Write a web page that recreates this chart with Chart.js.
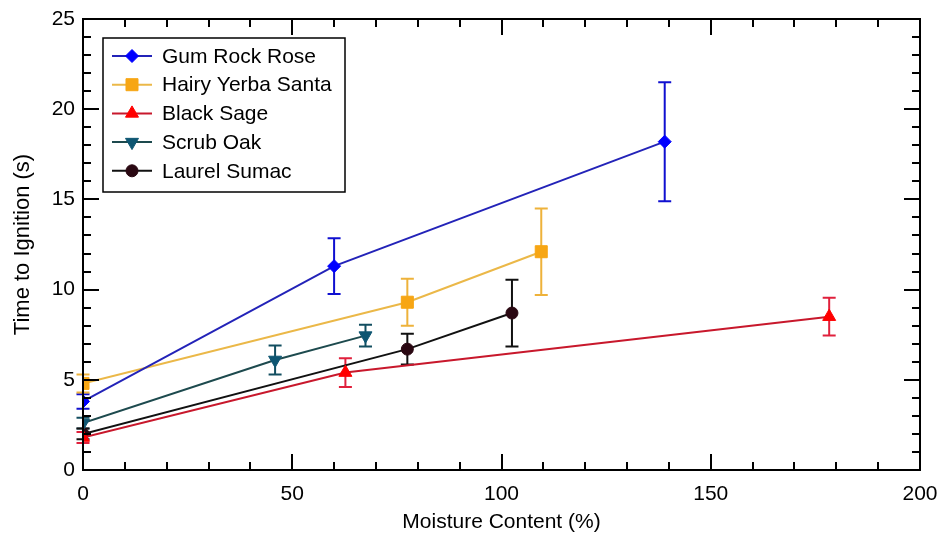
<!DOCTYPE html>
<html>
<head>
<meta charset="utf-8">
<script src="https://cdn.jsdelivr.net/npm/chart.js@4.4.1/dist/chart.umd.min.js"></script>
<style>
  html, body { margin: 0; padding: 0; background: #fff; }
</style>
</head>
<body>
<canvas id="ignitionChart" width="939" height="537"></canvas>
<script>
// moisture content (%), time to ignition (s) and error bar half-widths (s)
const gumRockRoseX = [0, 60, 139];
const gumRockRoseY = [3.8, 11.3, 18.2];
const gumRockRoseErr = [0.4, 1.55, 3.3];

const hairyYerbaSantaX = [0, 77.5, 109.5];
const hairyYerbaSantaY = [4.8, 9.3, 12.1];
const hairyYerbaSantaErr = [0.5, 1.3, 2.4];

const blackSageX = [0, 62.7, 178.3];
const blackSageY = [1.8, 5.4, 8.5];
const blackSageErr = [0.3, 0.8, 1.05];

const scrubOakX = [0, 45.9, 67.5];
const scrubOakY = [2.6, 6.1, 7.45];
const scrubOakErr = [0.3, 0.8, 0.6];

const laurelSumacX = [0, 77.5, 102.5];
const laurelSumacY = [2.0, 6.7, 8.7];
const laurelSumacErr = [0.3, 0.85, 1.85];

const xTickValues = [0, 50, 100, 150, 200];
const yTickValues = [0, 5, 10, 15, 20, 25];

const FONT = "'Liberation Sans', Arial, sans-serif";

function points(xs, ys, errs) {
    return xs.map((x, i) => ({x: x, y: ys[i], err: errs[i]}));
}

function series(label, xs, ys, errs, style) {
    return {
        label: label,
        data: points(xs, ys, errs),
        borderColor: style.line,
        borderWidth: 2,
        backgroundColor: style.marker,
        pointBackgroundColor: style.marker,
        pointBorderColor: style.marker,
        pointBorderWidth: 1,
        pointStyle: style.shape,
        pointRadius: style.radius,
        pointRotation: style.rotation || 0,
        errColor: style.err,
        tension: 0,
        fill: false
    };
}

const datasets = [
    series("Gum Rock Rose", gumRockRoseX, gumRockRoseY, gumRockRoseErr,
        {line: "#2323b8", marker: "#0000ff", err: "#1010d0", shape: "rectRot", radius: 6.5}),
    series("Hairy Yerba Santa", hairyYerbaSantaX, hairyYerbaSantaY, hairyYerbaSantaErr,
        {line: "#ebb848", marker: "#f7a614", err: "#eeb23a", shape: "rect", radius: 8.5}),
    series("Black Sage", blackSageX, blackSageY, blackSageErr,
        {line: "#c8182c", marker: "#ff0000", err: "#e0203c", shape: "triangle", radius: 7.5}),
    series("Scrub Oak", scrubOakX, scrubOakY, scrubOakErr,
        {line: "#1d4a4e", marker: "#0e5672", err: "#124e60", shape: "triangle", radius: 7.5, rotation: 180}),
    series("Laurel Sumac", laurelSumacX, laurelSumacY, laurelSumacErr,
        {line: "#111111", marker: "#2a0812", err: "#111111", shape: "circle", radius: 6})
];

// vertical error bars with caps, under the markers
const errorBars = {
    id: "errorBars",
    beforeDatasetsDraw(chart) {
        const ctx = chart.ctx;
        const xs = chart.scales.x, ys = chart.scales.y;
        ctx.save();
        chart.data.datasets.forEach(ds => {
            ctx.strokeStyle = ds.errColor;
            ctx.lineWidth = 2;
            ds.data.forEach(p => {
                const px = xs.getPixelForValue(p.x);
                const top = ys.getPixelForValue(p.y + p.err);
                const bot = ys.getPixelForValue(p.y - p.err);
                ctx.beginPath();
                ctx.moveTo(px, top); ctx.lineTo(px, bot);
                ctx.moveTo(px - 6.5, top); ctx.lineTo(px + 6.5, top);
                ctx.moveTo(px - 6.5, bot); ctx.lineTo(px + 6.5, bot);
                ctx.stroke();
            });
        });
        ctx.restore();
    }
};

// box frame with inward ticks on all four sides
const frameTicks = {
    id: "frameTicks",
    afterDatasetsDraw(chart) {
        const ctx = chart.ctx;
        const a = chart.chartArea;
        const xs = chart.scales.x, ys = chart.scales.y;
        ctx.save();
        ctx.strokeStyle = "#000";
        ctx.lineWidth = 2;
        ctx.beginPath();
        for (let v = 0; v <= 200; v += 10) {
            const len = v % 50 === 0 ? 16 : 8;
            const px = Math.round(xs.getPixelForValue(v));
            ctx.moveTo(px, a.bottom); ctx.lineTo(px, a.bottom - len);
            ctx.moveTo(px, a.top); ctx.lineTo(px, a.top + len);
        }
        for (let v = 0; v <= 25; v += 1) {
            const len = v % 5 === 0 ? 16 : 8;
            const py = Math.round(ys.getPixelForValue(v));
            ctx.moveTo(a.left, py); ctx.lineTo(a.left + len, py);
            ctx.moveTo(a.right, py); ctx.lineTo(a.right - len, py);
        }
        ctx.stroke();
        ctx.strokeRect(a.left, a.top, a.right - a.left, a.bottom - a.top);
        ctx.restore();
    }
};

// boxed legend: line sample with the marker, then the name
const boxLegend = {
    id: "boxLegend",
    afterDraw(chart) {
        const ctx = chart.ctx;
        const left = 103, top = 38, w = 242, h = 154, rowH = 28.7;
        ctx.save();
        ctx.fillStyle = "#fff";
        ctx.fillRect(left, top, w, h);
        ctx.strokeStyle = "#000";
        ctx.lineWidth = 1.5;
        ctx.strokeRect(left, top, w, h);
        ctx.font = "21px " + FONT;
        ctx.textBaseline = "middle";
        chart.data.datasets.forEach((ds, i) => {
            const cy = top + 18 + i * rowH;
            ctx.strokeStyle = ds.borderColor;
            ctx.lineWidth = 2;
            ctx.beginPath();
            ctx.moveTo(left + 9, cy); ctx.lineTo(left + 49, cy);
            ctx.stroke();
            ctx.fillStyle = ds.pointBackgroundColor;
            ctx.strokeStyle = ds.pointBorderColor;
            ctx.lineWidth = 1;
            Chart.helpers.drawPoint(ctx, {
                pointStyle: ds.pointStyle, radius: ds.pointRadius,
                rotation: ds.pointRotation, borderWidth: 1
            }, left + 29, cy);
            ctx.fillStyle = "#000";
            ctx.fillText(ds.label, left + 59, cy + 1);
        });
        ctx.restore();
    }
};

new Chart(document.getElementById("ignitionChart"), {
    type: "line",
    data: {datasets: datasets},
    options: {
        responsive: false,
        animation: false,
        layout: {padding: {top: 19, right: 19, left: 0, bottom: 0}},
        plugins: {legend: {display: false}, tooltip: {enabled: false}},
        scales: {
            x: {
                type: "linear",
                min: 0, max: 200,
                afterBuildTicks: s => { s.ticks = xTickValues.map(v => ({value: v})); },
                afterFit: s => { s.height = 67; s.paddingLeft = 0; s.paddingRight = 0; },
                grid: {display: false, drawTicks: false},
                border: {display: false},
                ticks: {color: "#000", font: {family: FONT, size: 21}, padding: 12, maxRotation: 0},
                title: {display: true, text: "Moisture Content (%)", color: "#000",
                    font: {family: FONT, size: 21}, padding: {top: 0, bottom: 2}}
            },
            y: {
                type: "linear",
                min: 0, max: 25,
                afterBuildTicks: s => { s.ticks = yTickValues.map(v => ({value: v})); },
                afterFit: s => { s.width = 83; s.paddingTop = 0; s.paddingBottom = 0; },
                grid: {display: false, drawTicks: false},
                border: {display: false},
                ticks: {color: "#000", font: {family: FONT, size: 21}, padding: 8},
                title: {display: true, text: "Time to Ignition (s)", color: "#000",
                    font: {family: FONT, size: 22}, padding: {top: 10, bottom: 0}}
            }
        }
    },
    plugins: [errorBars, frameTicks, boxLegend]
});
</script>
</body>
</html>
